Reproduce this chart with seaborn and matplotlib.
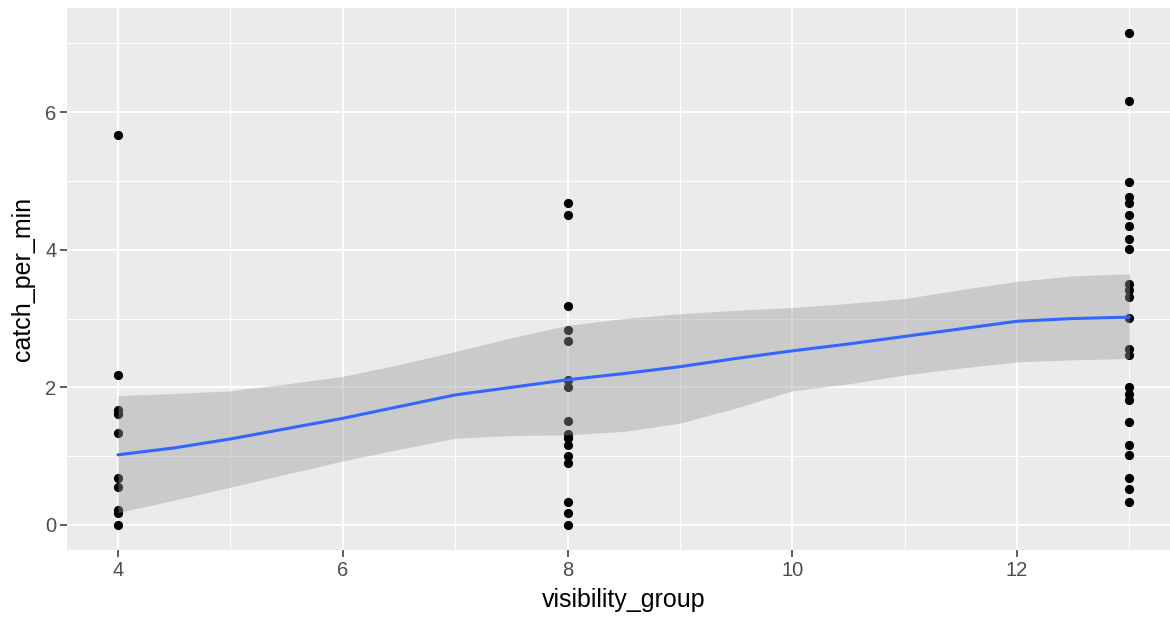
import numpy as np
import pandas as pd
import matplotlib
matplotlib.use("Agg")
import matplotlib.pyplot as plt
import seaborn as sns

# ---- data ----
vis_4 = [5.67, 2.18, 1.67, 1.62, 1.33, 0.68, 0.55, 0.22, 0.17, 0.0]
vis_8 = [4.68, 4.50, 3.18, 2.84, 2.68, 2.11, 2.00, 1.51, 1.32, 1.27, 1.16, 1.00, 0.90, 0.34, 0.18, 0.0]
vis_13 = [7.15, 6.16, 4.99, 4.77, 4.68, 4.50, 4.35, 4.16, 4.01, 3.50, 3.42, 3.32, 3.01,
          2.56, 2.47, 2.01, 1.91, 1.82, 1.50, 1.16, 1.02, 0.68, 0.52, 0.34]

# smoother (loess)
smooth_x = [4.0, 4.5, 5.0, 5.5, 6.0, 6.5, 7.0, 7.5, 8.0, 8.5, 9.0, 9.5, 10.0, 10.5, 11.0, 11.5, 12.0, 12.5, 13.0]
smooth_fit = [1.02, 1.12, 1.25, 1.40, 1.55, 1.72, 1.89, 2.00, 2.11, 2.20, 2.30, 2.42, 2.53, 2.63, 2.74, 2.85, 2.96, 3.00, 3.02]
smooth_lo = [0.18, 0.36, 0.55, 0.74, 0.93, 1.10, 1.26, 1.30, 1.31, 1.36, 1.48, 1.70, 1.95, 2.05, 2.18, 2.28, 2.37, 2.40, 2.42]
smooth_hi = [1.88, 1.91, 1.95, 2.05, 2.16, 2.33, 2.52, 2.72, 2.90, 3.00, 3.07, 3.12, 3.16, 3.22, 3.29, 3.42, 3.54, 3.62, 3.65]

df = pd.DataFrame({
    "visibility_group": [4] * len(vis_4) + [8] * len(vis_8) + [13] * len(vis_13),
    "catch_per_min": vis_4 + vis_8 + vis_13,
})
sm = pd.DataFrame({"x": smooth_x, "fit": smooth_fit, "lo": smooth_lo, "hi": smooth_hi})

sns.set_theme(style="darkgrid", rc={
    "axes.facecolor": "#EBEBEB",
    "grid.color": "white",
    "axes.edgecolor": "#EBEBEB",
})
plt.rcParams["font.family"] = ["Liberation Sans", "DejaVu Sans"]

fig = plt.figure(figsize=(11.7, 6.2), dpi=100)
ax = fig.add_axes([67.4 / 1170, 1 - 549.6 / 620, (1180 - 67.4) / 1170, 541.3 / 620])

sns.scatterplot(data=df, x="visibility_group", y="catch_per_min", ax=ax,
                color="black", s=44, linewidth=0, zorder=2)
ax.fill_between(sm["x"], sm["lo"], sm["hi"], color="#999999", alpha=0.4,
                linewidth=0, zorder=3)
sns.lineplot(data=sm, x="x", y="fit", ax=ax, color="#3366FF", linewidth=2.2, zorder=4)

ax.set_xlim(3.55, 13.45)
ax.set_ylim(-0.3575, 7.5075)
ax.set_xticks([4, 6, 8, 10, 12])
ax.set_xticks([5, 7, 9, 11, 13], minor=True)
ax.set_yticks([0, 2, 4, 6])
ax.set_yticks([1, 3, 5, 7], minor=True)
ax.grid(which="major", color="white", linewidth=1.4)
ax.grid(which="minor", color="white", linewidth=0.7)
for s in ax.spines.values():
    s.set_visible(False)
ax.tick_params(which="major", length=5, width=1.1, color="#333333",
               labelsize=14.5, labelcolor="#4D4D4D", pad=3,
               bottom=True, left=True)
ax.tick_params(which="minor", length=0)
ax.set_xlabel("visibility_group", fontsize=18, color="black", labelpad=6)
ax.set_ylabel("catch_per_min", fontsize=18, color="black", labelpad=7)
ax.set_axisbelow(True)

fig.savefig("out.png", dpi=100)
